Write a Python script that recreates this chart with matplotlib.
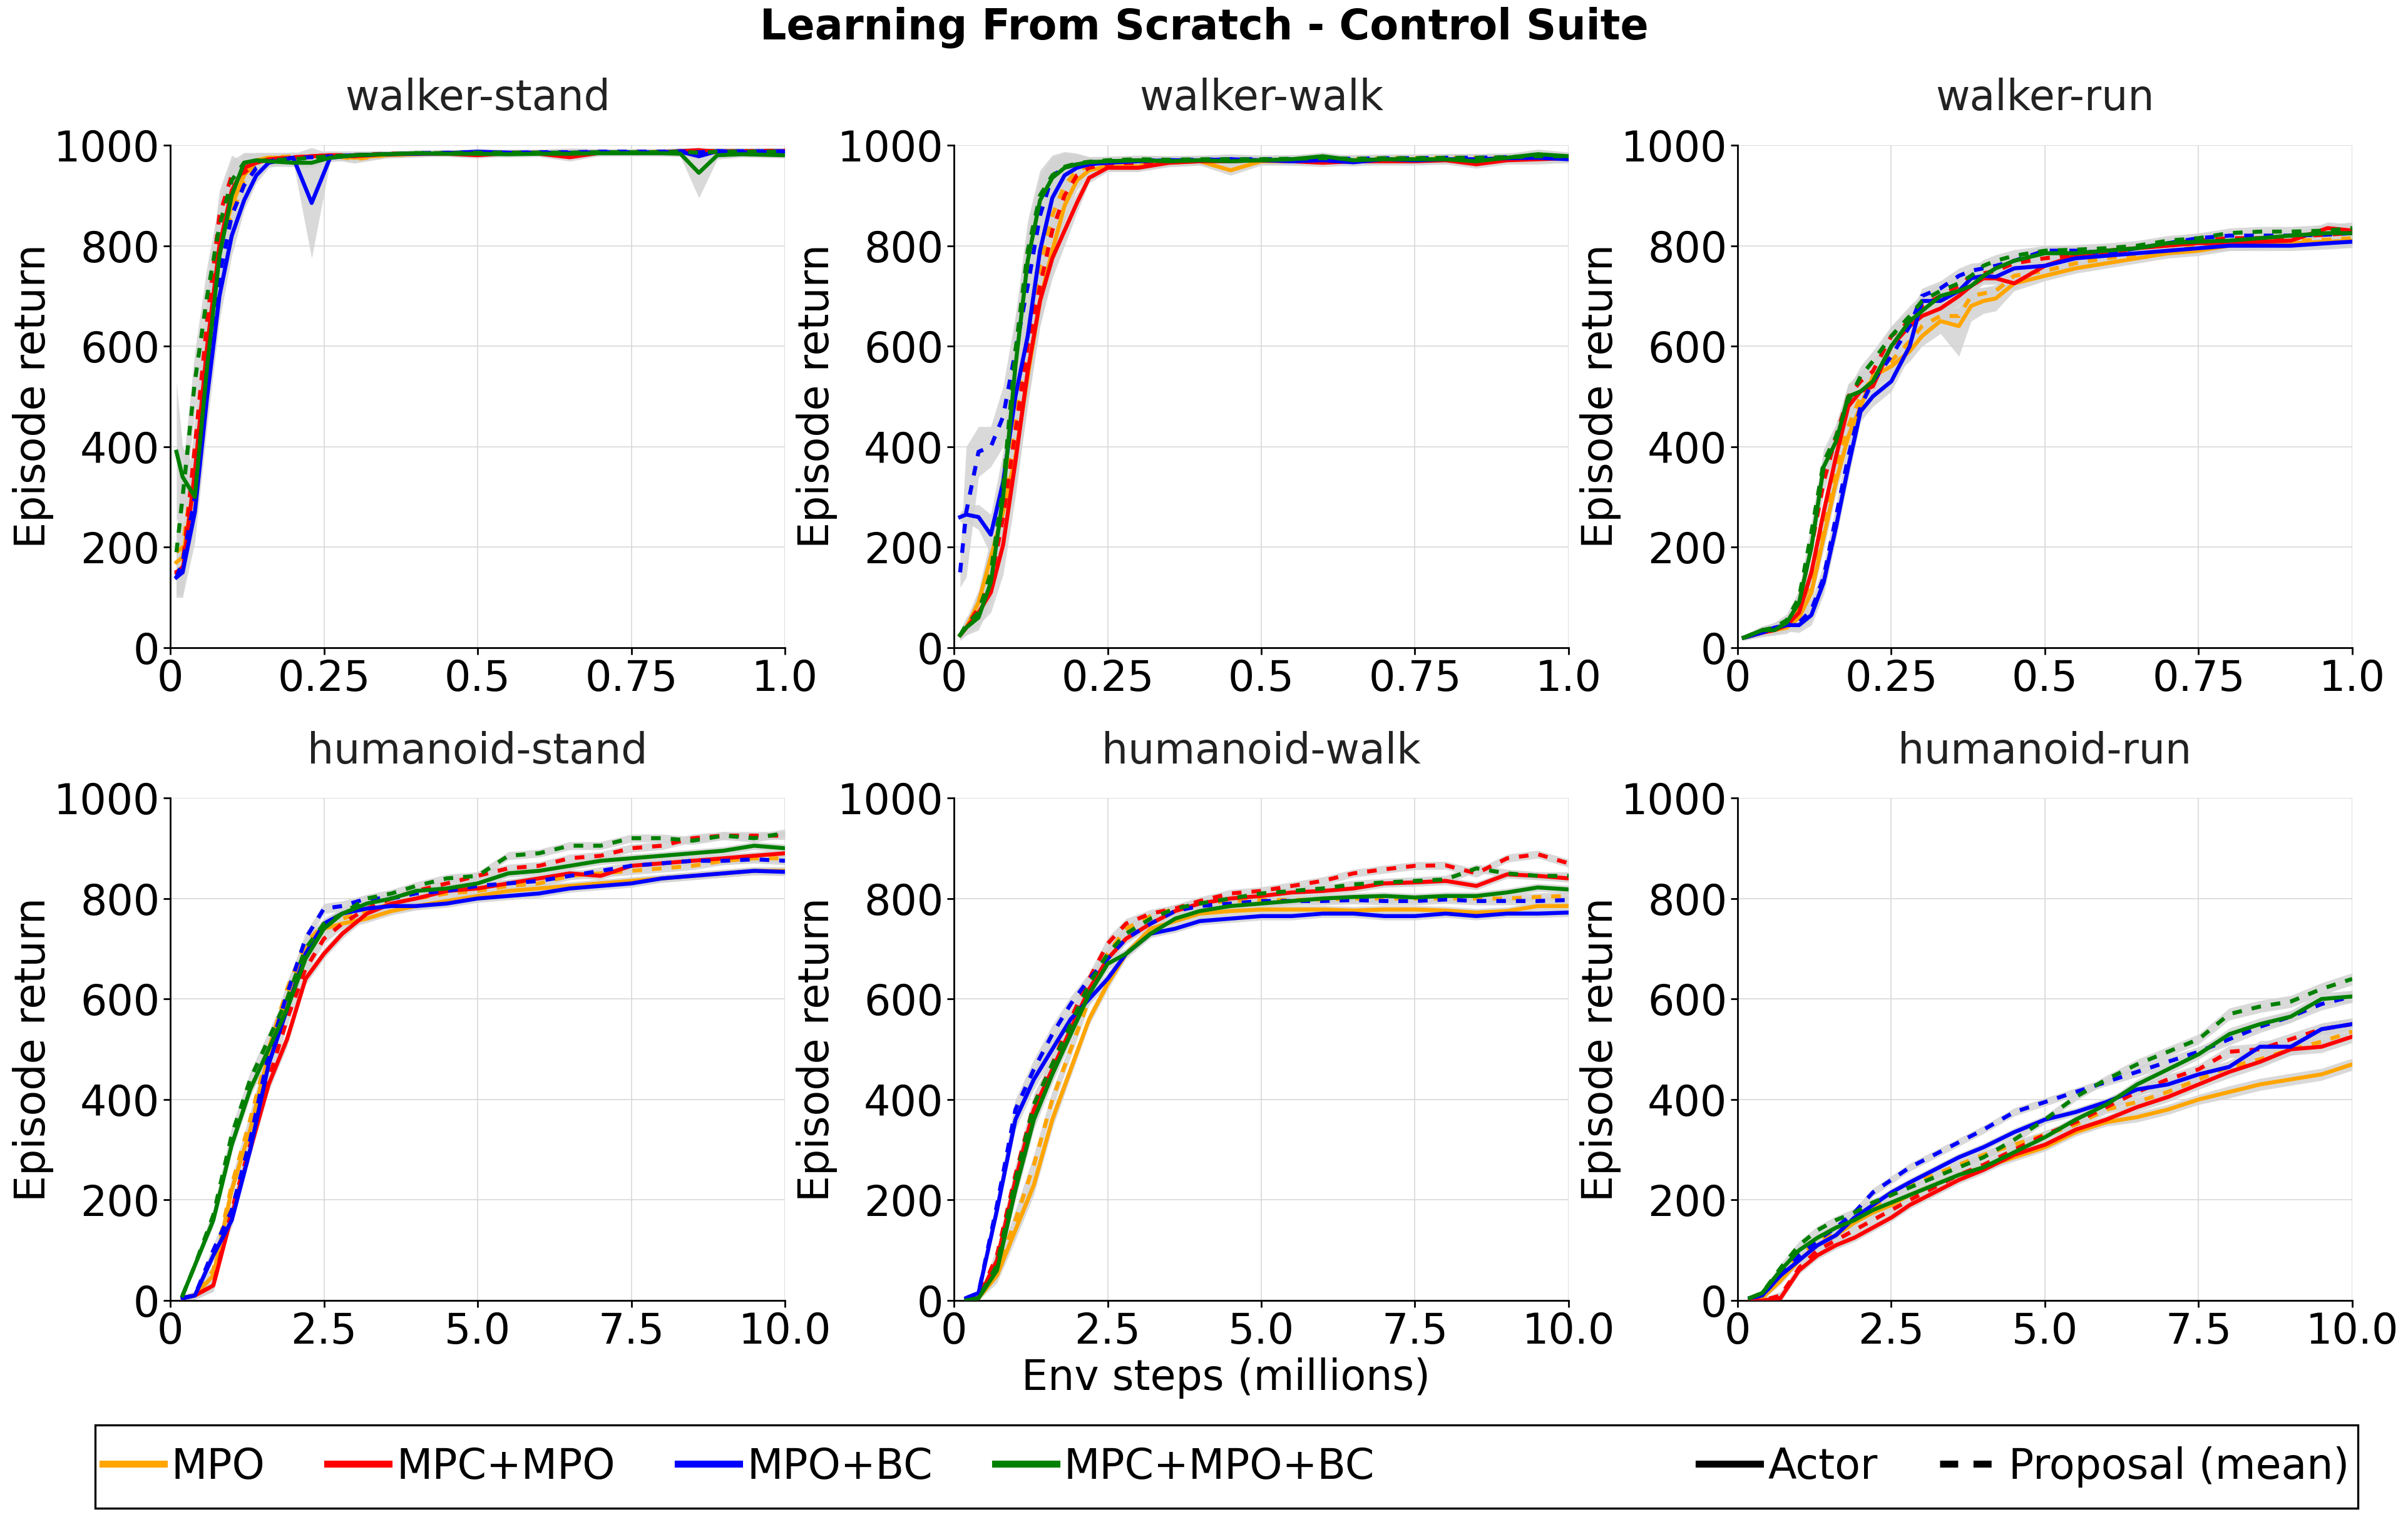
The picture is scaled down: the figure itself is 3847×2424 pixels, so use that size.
import numpy as np
import matplotlib
matplotlib.use("Agg")
import matplotlib.pyplot as plt
from matplotlib.lines import Line2D
from matplotlib.patches import Rectangle

plt.rcParams['font.family'] = ['DejaVu Sans']

# ---------------- data ----------------
methods = ["MPO", "MPC+MPO", "MPO+BC", "MPC+MPO+BC"]
colors = ["orange", "red", "blue", "green"]
titles = ["walker-stand", "walker-walk", "walker-run",
          "humanoid-stand", "humanoid-walk", "humanoid-run"]
walker_ticks = [0, 0.25, 0.5, 0.75, 1.0]
walker_ticklabels = ["0", "0.25", "0.5", "0.75", "1.0"]
humanoid_ticks = [0, 2.5, 5.0, 7.5, 10.0]
humanoid_ticklabels = ["0", "2.5", "5.0", "7.5", "10.0"]
y_ticks = [0, 200, 400, 600, 800, 1000]

# walker-stand
ws_x = [0.01, 0.02, 0.04, 0.06, 0.08, 0.10, 0.12, 0.14, 0.16, 0.20, 0.23, 0.26, 0.30,
        0.35, 0.40, 0.45, 0.50, 0.55, 0.60, 0.65, 0.70, 0.75, 0.80, 0.83, 0.86, 0.89, 0.93, 1.00]
ws_mpo_actor = [170, 180, 330, 580, 800, 880, 940, 970, 975, 975, 978, 978, 975,
                980, 982, 984, 985, 984, 985, 984, 985, 986, 986, 987, 985, 986, 987, 987]
ws_mpo_prop = [190, 200, 370, 620, 820, 860, 930, 970, 975, 978, 976, 980, 972,
               980, 983, 984, 983, 985, 985, 985, 986, 986, 987, 988, 987, 988, 988, 988]
ws_mpcmpo_actor = [150, 150, 350, 600, 800, 910, 955, 965, 972, 975, 978, 980, 978,
                   982, 983, 983, 980, 984, 983, 976, 985, 986, 984, 988, 990, 986, 987, 988]
ws_mpcmpo_prop = [150, 160, 400, 650, 860, 940, 945, 965, 972, 976, 978, 980, 980,
                  983, 983, 984, 985, 985, 985, 984, 986, 986, 986, 988, 989, 988, 988, 989]
ws_mpobc_actor = [140, 150, 270, 500, 700, 820, 890, 940, 965, 975, 885, 975, 980,
                  982, 983, 984, 987, 985, 985, 985, 986, 986, 986, 987, 978, 988, 986, 987]
ws_mpobc_prop = [140, 170, 300, 560, 740, 860, 920, 955, 968, 975, 976, 978, 980,
                 982, 984, 985, 986, 985, 986, 986, 987, 987, 987, 988, 986, 988, 988, 988]
ws_all_actor = [390, 340, 300, 560, 780, 900, 965, 970, 968, 965, 965, 975, 980,
                982, 984, 983, 983, 982, 983, 983, 984, 984, 984, 983, 945, 980, 982, 980]
ws_all_prop = [190, 300, 530, 700, 840, 930, 965, 968, 970, 972, 975, 978, 980,
               982, 984, 984, 985, 985, 985, 985, 986, 986, 986, 987, 985, 987, 987, 987]
ws_std = [40, 50, 60, 60, 50, 40, 20, 15, 10, 8, 8, 8, 8,
          6, 6, 6, 6, 6, 6, 8, 6, 6, 6, 6, 6, 6, 6, 6]
ws_mpobc_actor_std = [40, 50, 60, 60, 50, 40, 20, 15, 10, 8, 110, 8, 8,
                      6, 6, 6, 6, 6, 6, 8, 6, 6, 6, 6, 6, 6, 6, 6]
ws_all_actor_std = [140, 60, 60, 60, 50, 40, 20, 15, 10, 8, 10, 8, 8,
                    6, 6, 6, 6, 6, 6, 8, 6, 6, 6, 6, 50, 8, 6, 6]

# walker-walk
ww_x = [0.01, 0.02, 0.04, 0.06, 0.08, 0.10, 0.12, 0.14, 0.16, 0.18, 0.20, 0.22, 0.25, 0.30,
        0.35, 0.40, 0.45, 0.50, 0.55, 0.60, 0.65, 0.70, 0.75, 0.80, 0.85, 0.90, 0.95, 1.00]
ww_mpo_actor = [25, 40, 90, 180, 270, 380, 540, 690, 790, 880, 930, 950, 958, 958,
                965, 968, 950, 968, 968, 970, 968, 972, 972, 972, 970, 972, 975, 975]
ww_mpo_prop = [25, 40, 85, 170, 290, 450, 620, 760, 860, 920, 950, 958, 963, 965,
               968, 970, 970, 970, 972, 972, 972, 974, 974, 975, 975, 975, 976, 977]
ww_mpcmpo_actor = [25, 40, 70, 110, 205, 370, 550, 690, 775, 830, 885, 935, 955, 955,
                   965, 968, 968, 970, 968, 965, 968, 968, 968, 970, 962, 970, 972, 974]
ww_mpcmpo_prop = [25, 40, 80, 130, 260, 430, 600, 720, 830, 900, 940, 955, 963, 965,
                  968, 970, 970, 970, 972, 970, 972, 972, 973, 974, 974, 975, 976, 977]
ww_mpobc_actor = [260, 265, 260, 225, 330, 500, 620, 790, 895, 940, 955, 962, 965, 968,
                  970, 970, 972, 970, 968, 970, 966, 972, 970, 972, 972, 974, 975, 972]
ww_mpobc_prop = [150, 270, 390, 400, 460, 590, 720, 860, 939, 955, 962, 966, 968, 970,
                 970, 971, 972, 972, 972, 973, 973, 974, 974, 975, 975, 976, 977, 978]
ww_all_actor = [25, 40, 60, 130, 300, 560, 770, 890, 935, 955, 962, 966, 968, 970,
                968, 970, 968, 970, 972, 978, 970, 972, 972, 972, 968, 975, 982, 978]
ww_all_prop = [25, 45, 70, 150, 320, 590, 790, 900, 940, 957, 964, 967, 970, 972,
               971, 972, 972, 972, 973, 974, 973, 974, 974, 975, 975, 976, 978, 978]
ww_std = [10, 15, 25, 40, 60, 70, 60, 50, 40, 30, 20, 10, 8, 8,
          8, 8, 10, 8, 8, 8, 8, 8, 8, 8, 8, 8, 10, 8]
ww_mpobc_prop_std = [30, 130, 50, 40, 60, 70, 60, 40, 25, 18, 12, 8, 8, 8,
                     8, 8, 10, 8, 8, 8, 8, 8, 8, 8, 8, 8, 10, 8]

# walker-run
wr_x = [0.01, 0.04, 0.06, 0.08, 0.10, 0.12, 0.14, 0.16, 0.18, 0.20, 0.22, 0.25, 0.28, 0.30,
        0.33, 0.36, 0.38, 0.40, 0.42, 0.45, 0.50, 0.55, 0.60, 0.65, 0.70, 0.75, 0.80, 0.85,
        0.90, 0.96, 1.00]
wr_mpo_actor = [20, 30, 35, 40, 60, 110, 220, 330, 420, 480, 540, 560, 590, 620,
                650, 640, 680, 690, 695, 725, 740, 755, 765, 775, 785, 790, 800, 802,
                805, 808, 810]
wr_mpo_prop = [20, 30, 35, 45, 80, 130, 250, 360, 440, 500, 540, 570, 610, 640,
               660, 660, 700, 705, 710, 740, 750, 765, 775, 782, 790, 798, 805, 808,
               810, 812, 815]
wr_mpcmpo_actor = [20, 30, 35, 45, 70, 150, 270, 380, 480, 510, 520, 600, 640, 660,
                   675, 700, 720, 735, 735, 725, 760, 780, 790, 795, 800, 805, 805, 808,
                   810, 835, 830]
wr_mpcmpo_prop = [20, 32, 38, 50, 90, 200, 330, 420, 500, 530, 550, 620, 650, 680,
                  700, 720, 740, 745, 750, 765, 775, 782, 785, 795, 805, 810, 815, 815,
                  818, 822, 825]
wr_mpobc_actor = [20, 30, 40, 45, 45, 65, 130, 240, 360, 470, 500, 530, 600, 690,
                  690, 710, 735, 740, 738, 755, 760, 775, 780, 785, 790, 795, 800, 800,
                  800, 805, 808]
wr_mpobc_prop = [20, 30, 40, 45, 50, 75, 140, 260, 380, 480, 530, 580, 640, 700,
                 715, 740, 750, 755, 760, 770, 790, 790, 785, 795, 805, 815, 820, 820,
                 820, 822, 825]
wr_all_actor = [20, 35, 35, 50, 90, 200, 360, 410, 500, 510, 530, 600, 650, 670,
                700, 710, 720, 740, 755, 770, 785, 785, 790, 795, 805, 808, 810, 815,
                820, 825, 825]
wr_all_prop = [20, 35, 40, 55, 100, 230, 370, 420, 490, 540, 570, 620, 660, 690,
               710, 725, 740, 760, 770, 780, 790, 792, 795, 800, 810, 815, 825, 828,
               828, 830, 835]
wr_std = [5, 8, 10, 12, 15, 20, 25, 25, 25, 20, 20, 20, 20, 15,
          15, 15, 15, 12, 12, 12, 10, 10, 10, 10, 10, 10, 10, 10,
          10, 12, 12]
wr_mpo_actor_std = [5, 8, 10, 12, 15, 20, 25, 25, 25, 20, 20, 20, 20, 20,
                    25, 60, 30, 25, 25, 15, 10, 10, 10, 10, 10, 10, 10, 10,
                    10, 12, 12]

# humanoid (shared x grid)
hum_x = [0.2, 0.4, 0.7, 1.0, 1.3, 1.6, 1.9, 2.2, 2.5, 2.8, 3.2, 3.6, 4.0, 4.5, 5.0,
         5.5, 6.0, 6.5, 7.0, 7.5, 8.0, 8.5, 9.0, 9.5, 10.0]

# humanoid-stand
hs_mpo_actor = [5, 10, 50, 220, 340, 490, 600, 700, 740, 750, 760, 775, 785, 795, 805,
                815, 820, 825, 830, 835, 840, 845, 850, 855, 855]
hs_mpo_prop = [5, 10, 60, 230, 360, 500, 620, 710, 750, 760, 775, 790, 800, 810, 815,
               825, 830, 845, 850, 855, 860, 865, 875, 880, 880]
hs_mpcmpo_actor = [5, 10, 30, 170, 300, 430, 520, 640, 690, 730, 770, 790, 800, 815, 820,
                   830, 840, 850, 845, 865, 870, 875, 880, 885, 890]
hs_mpcmpo_prop = [5, 10, 30, 180, 310, 440, 560, 660, 720, 750, 780, 800, 815, 830, 845,
                  860, 865, 880, 885, 900, 905, 920, 925, 925, 925]
hs_mpobc_actor = [5, 10, 90, 160, 300, 470, 580, 690, 750, 770, 780, 785, 785, 790, 800,
                  805, 810, 820, 825, 830, 840, 845, 850, 855, 853]
hs_mpobc_prop = [5, 10, 100, 180, 320, 490, 610, 720, 780, 785, 800, 800, 810, 815, 825,
                 830, 835, 845, 855, 865, 870, 875, 875, 878, 875]
hs_all_actor = [10, 70, 160, 310, 420, 500, 580, 680, 740, 770, 790, 800, 815, 820, 830,
                850, 855, 865, 875, 880, 885, 890, 895, 905, 900]
hs_all_prop = [10, 70, 170, 330, 440, 520, 600, 700, 750, 770, 800, 810, 825, 840, 845,
               885, 890, 905, 905, 920, 920, 915, 925, 920, 930]
hs_std = [5, 8, 12, 15, 15, 15, 15, 12, 10, 10, 8, 8, 8, 8, 8,
          8, 8, 8, 8, 8, 8, 8, 8, 8, 8]

# humanoid-walk
hw_mpo_actor = [0, 5, 50, 140, 230, 360, 460, 560, 630, 690, 740, 755, 770, 775, 778,
                778, 778, 776, 778, 778, 776, 772, 775, 785, 785]
hw_mpo_prop = [0, 5, 60, 160, 270, 400, 500, 600, 690, 740, 765, 780, 790, 795, 797,
               797, 798, 800, 800, 800, 800, 800, 800, 803, 805]
hw_mpcmpo_actor = [0, 5, 80, 240, 380, 460, 540, 620, 680, 720, 750, 775, 790, 800, 805,
                   812, 815, 820, 830, 832, 835, 825, 848, 845, 840]
hw_mpcmpo_prop = [0, 5, 90, 250, 390, 470, 560, 640, 710, 750, 770, 780, 795, 810, 815,
                  825, 835, 850, 858, 865, 866, 850, 880, 888, 870]
hw_mpobc_actor = [5, 15, 180, 360, 440, 500, 560, 600, 640, 690, 730, 740, 755, 760, 765,
                  765, 770, 770, 765, 765, 770, 765, 770, 770, 772]
hw_mpobc_prop = [5, 15, 190, 380, 460, 530, 590, 640, 680, 720, 750, 775, 785, 790, 795,
                 795, 795, 797, 795, 795, 798, 795, 795, 795, 797]
hw_all_actor = [0, 5, 60, 220, 360, 450, 530, 610, 670, 690, 730, 760, 775, 785, 790,
                795, 800, 803, 805, 802, 805, 805, 812, 822, 818]
hw_all_prop = [0, 5, 70, 240, 390, 470, 550, 630, 690, 730, 760, 780, 790, 800, 810,
               815, 820, 828, 832, 835, 838, 860, 850, 845, 845]
hw_std = [3, 5, 15, 20, 20, 18, 15, 12, 12, 10, 8, 8, 8, 8, 8,
          8, 8, 8, 8, 8, 8, 8, 8, 8, 8]

# humanoid-run
hr_mpo_actor = [0, 5, 40, 80, 110, 130, 155, 175, 190, 210, 230, 250, 265, 285, 305,
                335, 355, 365, 380, 400, 415, 430, 440, 450, 470]
hr_mpo_prop = [0, 5, 45, 90, 115, 140, 160, 185, 210, 230, 250, 270, 290, 310, 330,
               350, 380, 395, 415, 440, 465, 480, 500, 515, 535]
hr_mpcmpo_actor = [0, 0, 5, 60, 90, 110, 125, 145, 165, 190, 215, 240, 260, 290, 310,
                   340, 360, 385, 405, 430, 455, 475, 500, 505, 525]
hr_mpcmpo_prop = [0, 0, 10, 65, 100, 120, 140, 160, 180, 200, 225, 250, 270, 300, 330,
                  355, 385, 415, 440, 460, 495, 500, 520, 540, 550]
hr_mpobc_actor = [5, 10, 50, 80, 110, 130, 165, 190, 215, 235, 260, 285, 305, 335, 360,
                  375, 395, 420, 430, 450, 465, 505, 505, 540, 550]
hr_mpobc_prop = [5, 10, 50, 90, 120, 145, 175, 215, 240, 265, 290, 315, 340, 375, 395,
                 415, 435, 455, 475, 495, 520, 545, 565, 590, 605]
hr_all_actor = [5, 15, 60, 100, 125, 145, 160, 180, 195, 210, 230, 250, 265, 295, 325,
                360, 390, 430, 460, 490, 530, 550, 565, 600, 605]
hr_all_prop = [5, 15, 65, 110, 140, 160, 175, 195, 210, 225, 245, 265, 285, 320, 360,
               405, 440, 470, 495, 520, 570, 585, 595, 620, 640]
hr_std = [3, 5, 8, 8, 8, 8, 8, 8, 8, 8, 8, 8, 8, 8, 8,
          8, 8, 10, 10, 10, 12, 12, 12, 12, 12]

panels = [
    (ws_x, [(ws_mpo_actor, ws_mpo_prop), (ws_mpcmpo_actor, ws_mpcmpo_prop),
            (ws_mpobc_actor, ws_mpobc_prop), (ws_all_actor, ws_all_prop)],
     ws_std, {("MPO+BC", "a"): ws_mpobc_actor_std, ("MPC+MPO+BC", "a"): ws_all_actor_std}),
    (ww_x, [(ww_mpo_actor, ww_mpo_prop), (ww_mpcmpo_actor, ww_mpcmpo_prop),
            (ww_mpobc_actor, ww_mpobc_prop), (ww_all_actor, ww_all_prop)],
     ww_std, {("MPO+BC", "p"): ww_mpobc_prop_std}),
    (wr_x, [(wr_mpo_actor, wr_mpo_prop), (wr_mpcmpo_actor, wr_mpcmpo_prop),
            (wr_mpobc_actor, wr_mpobc_prop), (wr_all_actor, wr_all_prop)],
     wr_std, {("MPO", "a"): wr_mpo_actor_std}),
    (hum_x, [(hs_mpo_actor, hs_mpo_prop), (hs_mpcmpo_actor, hs_mpcmpo_prop),
             (hs_mpobc_actor, hs_mpobc_prop), (hs_all_actor, hs_all_prop)],
     hs_std, {}),
    (hum_x, [(hw_mpo_actor, hw_mpo_prop), (hw_mpcmpo_actor, hw_mpcmpo_prop),
             (hw_mpobc_actor, hw_mpobc_prop), (hw_all_actor, hw_all_prop)],
     hw_std, {}),
    (hum_x, [(hr_mpo_actor, hr_mpo_prop), (hr_mpcmpo_actor, hr_mpcmpo_prop),
             (hr_mpobc_actor, hr_mpobc_prop), (hr_all_actor, hr_all_prop)],
     hr_std, {}),
]

# ---------------- plot ----------------
FS = 24
LW = 2.3
DASH = (0, (2.4, 2.5))
fig = plt.figure(figsize=(19.24, 12.12), dpi=200)
gs = fig.add_gridspec(2, 3, left=0.0707, right=0.9766, top=0.9043, bottom=0.1427,
                      wspace=0.275, hspace=0.299)

for i, (x, series, std, extra) in enumerate(panels):
    ax = fig.add_subplot(gs[i // 3, i % 3])
    xa = np.array(x)
    for (actor, prop), m, c in zip(series, methods, colors):
        for vals, kind in ((actor, "a"), (prop, "p")):
            v = np.array(vals, dtype=float)
            s = np.array(extra.get((m, kind), std), dtype=float)
            ax.fill_between(xa, v - s, v + s, color="#d3d3d3", alpha=0.85,
                            linewidth=0, zorder=1)
    for (actor, prop), m, c in zip(series, methods, colors):
        ax.plot(xa, actor, color=c, lw=LW, ls="-", zorder=3)
        ax.plot(xa, prop, color=c, lw=LW, ls=DASH, zorder=3)
    if i < 3:
        ax.set_xlim(0, 1.0)
        ax.set_xticks(walker_ticks)
        ax.set_xticklabels(walker_ticklabels)
    else:
        ax.set_xlim(0, 10.0)
        ax.set_xticks(humanoid_ticks)
        ax.set_xticklabels(humanoid_ticklabels)
    ax.set_ylim(0, 1000)
    ax.set_yticks(y_ticks)
    ax.tick_params(labelsize=FS, length=4, width=1, pad=2)
    ax.grid(True, color="#d8d8d8", lw=0.6)
    ax.set_axisbelow(True)
    for sp in ("top", "right"):
        ax.spines[sp].set_visible(False)
    for sp in ("left", "bottom"):
        ax.spines[sp].set_linewidth(1.0)
    ax.set_title(titles[i], fontsize=FS, pad=20, color="#222222")
    ax.set_ylabel("Episode return", fontsize=FS, labelpad=0)

fig.text(0.5, 0.982, "Learning From Scratch - Control Suite", fontsize=FS,
         fontweight="bold", ha="center", va="center")
fig.text(0.509, 0.0916, "Env steps (millions)", fontsize=FS, ha="center", va="center")

# legend: frame + two legend groups
fig.add_artist(Rectangle((0.0395, 0.0058), 0.9395, 0.0548, transform=fig.transFigure,
                         fill=False, edgecolor="black", lw=1.2))
method_handles = [Line2D([], [], color=c, lw=4) for c in colors]
leg1 = fig.legend(method_handles, methods, loc="center left",
                  bbox_to_anchor=(0.0425, 0.0332), ncol=4, fontsize=FS, frameon=False,
                  handlelength=1.47, handletextpad=0.18, columnspacing=1.5,
                  borderpad=0, borderaxespad=0)
style_handles = [Line2D([], [], color="black", lw=4, ls="-"),
                 Line2D([], [], color="black", lw=4, ls=(0, (2.6, 2.2)))]
leg2 = fig.legend(style_handles, ["Actor", "Proposal (mean)"], loc="center right",
                  bbox_to_anchor=(0.9755, 0.0332), ncol=2, fontsize=FS, frameon=False,
                  handlelength=1.47, handletextpad=0.18, columnspacing=1.5,
                  borderpad=0, borderaxespad=0)

fig.savefig("out.png", dpi=200)
